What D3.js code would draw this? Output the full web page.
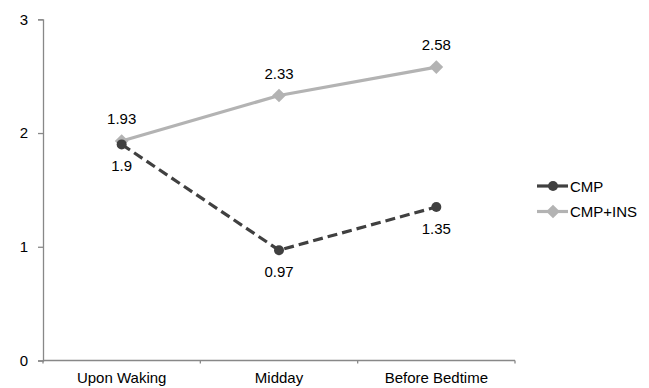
<!DOCTYPE html>
<html><head><meta charset="utf-8">
<script src="https://cdn.jsdelivr.net/npm/d3@7"></script>
<style>body{margin:0;background:#fff}text{font-family:"Liberation Sans",Arial,sans-serif;fill:#000}</style>
</head><body><svg id="c" width="649" height="388"></svg>
<script>
const categories = ["Upon Waking", "Midday", "Before Bedtime"];
const cmp = [1.9, 0.97, 1.35];
const cmpIns = [1.93, 2.33, 2.58];
const yTicks = [0, 1, 2, 3];
const seriesNames = ["CMP", "CMP+INS"];

const svg = d3.select("#c");
const L = 43, R = 515, T = 19.3, B = 360.5;
const FS = "15px";
const x = d3.scaleBand().domain(categories).range([L, R]);
const y = d3.scaleLinear().domain([0, 3]).range([B, T]);
const axisColor = "#888";

// y axis
const ya = svg.append("g").attr("transform", `translate(${L},0)`)
  .call(d3.axisLeft(y).tickValues(yTicks).tickSize(5).tickPadding(10).tickFormat(d3.format("d")));
ya.select(".domain").attr("stroke", axisColor).attr("stroke-width", 1.3);
ya.selectAll(".tick line").attr("stroke", axisColor).attr("stroke-width", 1.3);
ya.selectAll("text").style("font-size", FS);

// x axis
const xa = svg.append("g").attr("transform", `translate(0,${B})`);
xa.append("line").attr("x1", L).attr("x2", R).attr("stroke", axisColor).attr("stroke-width", 1.3);
const bounds = categories.map(c => x(c) + x.bandwidth()).concat([L]);
xa.selectAll("line.t").data(bounds).join("line").attr("class","t")
  .attr("x1", d => d).attr("x2", d => d).attr("y1", 0).attr("y2", 3)
  .attr("stroke", axisColor).attr("stroke-width", 1.3);
xa.selectAll("text").data(categories).join("text")
  .attr("x", d => x(d) + x.bandwidth()/2).attr("y", 22.5)
  .attr("text-anchor", "middle").style("font-size", FS).text(d => d);

const cx = c => x(c) + x.bandwidth()/2;
const line = d3.line().x((d,i) => cx(categories[i])).y(d => y(d));

// CMP+INS
svg.append("path").datum(cmpIns).attr("d", line).attr("fill","none")
  .attr("stroke","#b3b3b3").attr("stroke-width",3.2);
// CMP
svg.append("path").datum(cmp).attr("d", line).attr("fill","none")
  .attr("stroke","#404040").attr("stroke-width",3.2).attr("stroke-dasharray","10,5");

const diamond = d3.symbol().type(d3.symbolDiamond2).size(120);
svg.selectAll("path.dm").data(cmpIns).join("path").attr("class","dm")
  .attr("d", diamond).attr("fill","#b3b3b3")
  .attr("transform",(d,i)=>`translate(${cx(categories[i])},${y(d)})`);
svg.selectAll("circle.cp").data(cmp).join("circle").attr("class","cp")
  .attr("cx",(d,i)=>cx(categories[i])).attr("cy",d=>y(d)).attr("r",5).attr("fill","#404040");

// data labels
svg.selectAll("text.li").data(cmpIns).join("text").attr("class","li")
  .attr("x",(d,i)=>cx(categories[i])).attr("y",d=>y(d)-17)
  .attr("text-anchor","middle").style("font-size",FS).text(d=>d);
svg.selectAll("text.lc").data(cmp).join("text").attr("class","lc")
  .attr("x",(d,i)=>cx(categories[i])).attr("y",d=>y(d)+27)
  .attr("text-anchor","middle").style("font-size",FS).text(d=>d);

// legend
const lg = svg.append("g");
const ly = [186, 211.5];
const colors = ["#404040", "#b3b3b3"];
seriesNames.forEach((n, i) => {
  lg.append("line").attr("x1",537).attr("x2",568).attr("y1",ly[i]).attr("y2",ly[i])
    .attr("stroke",colors[i]).attr("stroke-width",3.2);
  if (i === 0) lg.append("circle").attr("cx",553).attr("cy",ly[i]).attr("r",5).attr("fill",colors[i]);
  else lg.append("path").attr("d",diamond).attr("fill",colors[i]).attr("transform",`translate(553,${ly[i]})`);
  lg.append("text").attr("x",570).attr("y",ly[i]+5.5).style("font-size",FS).text(n);
});
</script></body></html>
